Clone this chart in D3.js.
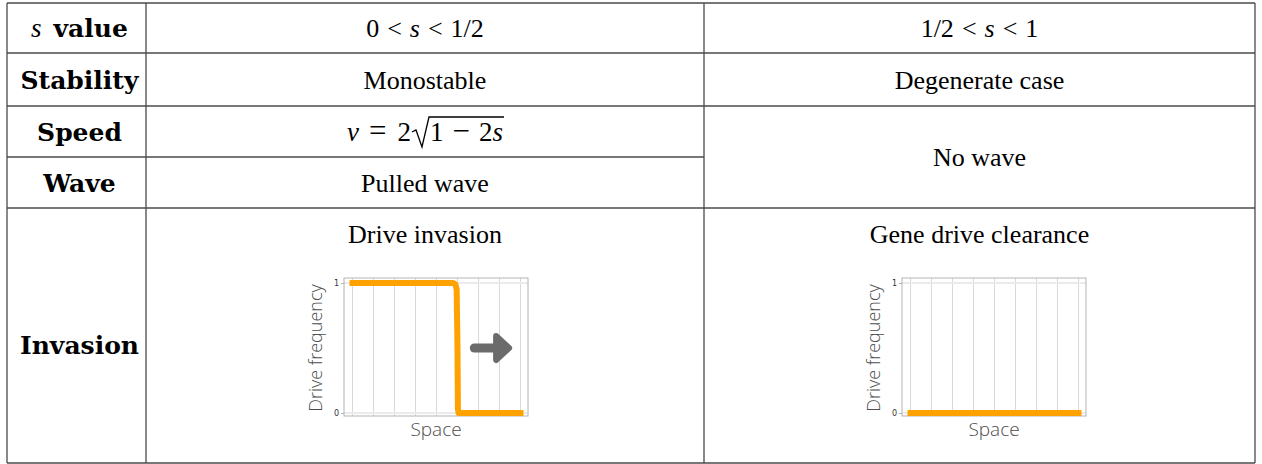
<!DOCTYPE html>
<html>
<head>
<meta charset="utf-8">
<script src="https://cdn.jsdelivr.net/npm/d3@7"></script>
<style>
  body { margin: 0; background: #fff; }
  svg { display: block; }
</style>
</head>
<body>
<div id="chart"></div>
<script>
// table content
const rowLabels = ["s value", "Stability", "Speed", "Wave", "Invasion"];
const stabilityTexts = ["Monostable", "Degenerate case"];
const waveTexts = ["Pulled wave", "No wave"];
const invasionTitles = ["Drive invasion", "Gene drive clearance"];

// mini plot data (space vs drive frequency)
const invasionX = [0, 1, 2, 3, 4, 4.8, 4.9, 4.96, 5.0, 5.02, 5.05, 6, 7, 8];
const invasionY = [1, 1, 1, 1, 1, 1, 0.99, 0.95, 0.5, 0.03, 0, 0, 0, 0];
const clearanceX = [0, 1, 2, 3, 4, 5, 6, 7, 8];
const clearanceY = [0, 0, 0, 0, 0, 0, 0, 0, 0];
const gridX = [0, 1, 2, 3, 4, 5, 6, 7, 8];
const yTicks = [0, 1];
const arrowX = [5.8, 7.6];
const arrowY = 0.5;

const width = 1262, height = 464;
const colEdges = [7, 146, 704, 1255];
const rowEdges = [3, 53, 106, 157, 208, 463];

const serif = "'Liberation Serif', serif";
const boldSerif = "'DejaVu Serif', serif";
const sans = "'Open Sans', sans-serif";
const lineColor = "#4a4a4a";

const svg = d3.select("#chart").append("svg")
    .attr("width", width)
    .attr("height", height);

// ---- grid of the table ----
const grid = svg.append("g").attr("stroke", lineColor).attr("stroke-width", 1.3);
[0, 1, 2, 4, 5].forEach(i => {
    grid.append("line")
        .attr("x1", colEdges[0]).attr("x2", colEdges[3])
        .attr("y1", rowEdges[i]).attr("y2", rowEdges[i]);
});
// speed/wave separator stops at second column
grid.append("line")
    .attr("x1", colEdges[0]).attr("x2", colEdges[2])
    .attr("y1", rowEdges[3]).attr("y2", rowEdges[3]);
colEdges.forEach(x => {
    grid.append("line")
        .attr("x1", x).attr("x2", x)
        .attr("y1", rowEdges[0]).attr("y2", rowEdges[5]);
});

const mid = (a, b) => (a + b) / 2;
const c0 = mid(colEdges[0], colEdges[1]) + 3;
const c1 = mid(colEdges[1], colEdges[2]);
const c2 = mid(colEdges[2], colEdges[3]);
const fontSize = 26;

function cellText(x, y, str, opts = {}) {
    return svg.append("text")
        .attr("x", x).attr("y", y)
        .attr("text-anchor", "middle")
        .attr("font-family", opts.family || serif)
        .attr("font-size", opts.size || fontSize)
        .attr("font-weight", opts.weight || "normal")
        .attr("fill", "#000")
        .text(str);
}

// ---- row labels ----
const labelBase = [37, 89, 141, 192, 354];
const sv = svg.append("text")
    .attr("x", c0).attr("y", labelBase[0])
    .attr("text-anchor", "middle")
    .attr("font-size", 25);
sv.append("tspan").attr("font-family", serif).attr("font-style", "italic").attr("font-size", 27).text("s");
sv.append("tspan").attr("font-family", boldSerif).attr("font-weight", "bold").attr("dx", 12).text("value");
rowLabels.slice(1).forEach((t, i) => {
    cellText(c0, labelBase[i + 1], t, { family: boldSerif, weight: "bold", size: 25 });
});

// ---- header row (inequalities) ----
function inequality(x, y, parts) {
    const t = svg.append("text")
        .attr("x", x).attr("y", y)
        .attr("text-anchor", "middle")
        .attr("font-family", serif)
        .attr("font-size", fontSize);
    parts.forEach(p => {
        t.append("tspan").attr("font-style", p.italic ? "italic" : "normal")
            .attr("dx", p.dx || 0).text(p.s);
    });
}
inequality(c1, 37, [{ s: "0" }, { s: "<", dx: 8 }, { s: "s", italic: true, dx: 8 }, { s: "<", dx: 8 }, { s: "1/2", dx: 8 }]);
inequality(c2, 37, [{ s: "1/2" }, { s: "<", dx: 8 }, { s: "s", italic: true, dx: 8 }, { s: "<", dx: 8 }, { s: "1", dx: 8 }]);

// ---- stability ----
cellText(c1, 89, stabilityTexts[0]);
cellText(c2, 89, stabilityTexts[1]);

// ---- speed: v = 2 sqrt(1 - 2s) ----
const sp = svg.append("g");
const lhs = sp.append("text")
    .attr("x", 0).attr("y", 141)
    .attr("font-family", serif).attr("font-size", 27);
lhs.append("tspan").attr("font-style", "italic").text("v");
lhs.append("tspan").attr("dx", 10).attr("font-size", 31).text("=");
lhs.append("tspan").attr("dx", 11).text("2");
const lhsW = lhs.node().getComputedTextLength() + 21;
const radX = lhsW + 1;
const radicand = sp.append("text")
    .attr("x", radX + 18).attr("y", 141)
    .attr("font-family", serif).attr("font-size", 27);
radicand.append("tspan").text("1");
radicand.append("tspan").attr("dx", 9).attr("font-size", 31).text("\u2212");
radicand.append("tspan").attr("dx", 9).text("2");
radicand.append("tspan").attr("font-style", "italic").text("s");
const radW = radicand.node().getComputedTextLength() + 18;
const topY = 141 - 24;
sp.append("path")
    .attr("d", `M${radX},${141 - 9} L${radX + 4},${141 - 11} L${radX + 10},${141 + 6} L${radX + 17},${topY} L${radX + 18 + radW + 1},${topY}`)
    .attr("fill", "none").attr("stroke", "#000").attr("stroke-width", 1.3);
const spW = radX + 18 + radW;
sp.attr("transform", `translate(${c1 - spW / 2},0)`);

// ---- wave ----
cellText(c1, 192, waveTexts[0]);
cellText(c2, mid(rowEdges[2], rowEdges[4]) + 9, waveTexts[1]);

// ---- invasion titles ----
cellText(c1, 243, invasionTitles[0]);
cellText(c2, 243, invasionTitles[1]);

// ---- mini plots ----
function miniPlot(left, top, xs, ys, withArrow) {
    const pw = 184, ph = 138;
    const g = svg.append("g");
    const x = d3.scaleLinear().domain([0, 8]).range([left + 8.5, left + pw - 7.5]);
    const y = d3.scaleLinear().domain([0, 1]).range([top + ph - 3, top + 5]);

    g.selectAll(".vgrid").data(gridX).enter().append("line")
        .attr("x1", d => x(d)).attr("x2", d => x(d))
        .attr("y1", top).attr("y2", top + ph)
        .attr("stroke", "#d9d9d9").attr("stroke-width", 1);
    g.selectAll(".hgrid").data(yTicks).enter().append("line")
        .attr("x1", left).attr("x2", left + pw)
        .attr("y1", d => y(d)).attr("y2", d => y(d))
        .attr("stroke", "#ebebeb").attr("stroke-width", 2);
    g.append("rect")
        .attr("x", left).attr("y", top).attr("width", pw).attr("height", ph)
        .attr("fill", "none").attr("stroke", "#b3b3b3").attr("stroke-width", 1);

    const yAxis = d3.axisLeft(y).tickValues(yTicks).tickSize(3).tickPadding(2).tickFormat(d3.format("d"));
    const ya = g.append("g").attr("transform", `translate(${left},0)`).call(yAxis);
    ya.select(".domain").remove();
    ya.selectAll("line").attr("stroke", "#b3b3b3");
    ya.selectAll("text").attr("font-family", "'DejaVu Sans', sans-serif").attr("font-size", 8).attr("fill", "#333");

    const line = d3.line().x((d, i) => x(xs[i])).y(d => y(d));
    g.append("path")
        .attr("d", line(ys))
        .attr("fill", "none")
        .attr("stroke", "#ffa200")
        .attr("stroke-width", 6)
        .attr("stroke-linecap", "square")
        .attr("stroke-linejoin", "round");

    if (withArrow) {
        const x0 = x(arrowX[0]), x1 = x(arrowX[1]), ym = y(arrowY);
        g.append("line")
            .attr("x1", x0).attr("x2", x1 - 14).attr("y1", ym).attr("y2", ym)
            .attr("stroke", "#6b6b6b").attr("stroke-width", 9).attr("stroke-linecap", "round");
        g.append("path")
            .attr("d", `M${x1 - 16},${ym - 12} L${x1 - 3},${ym} L${x1 - 16},${ym + 12} Z`)
            .attr("fill", "#6b6b6b").attr("stroke", "#6b6b6b")
            .attr("stroke-width", 6).attr("stroke-linejoin", "round");
    }

    g.append("text")
        .attr("transform", `translate(${left - 22},${top + ph / 2 + 1}) rotate(-90)`)
        .attr("text-anchor", "middle")
        .attr("font-family", sans).attr("font-weight", 300)
        .attr("font-size", 18).attr("fill", "#4d4d4d")
        .text("Drive frequency");
    g.append("text")
        .attr("x", left + pw / 2).attr("y", top + ph + 20)
        .attr("text-anchor", "middle")
        .attr("font-family", sans).attr("font-weight", 300)
        .attr("font-size", 19).attr("fill", "#4d4d4d")
        .text("Space");
}

miniPlot(colEdges[1] + 198, 278, invasionX, invasionY, true);
miniPlot(colEdges[2] + 198, 278, clearanceX, clearanceY, false);
</script>
</body>
</html>
